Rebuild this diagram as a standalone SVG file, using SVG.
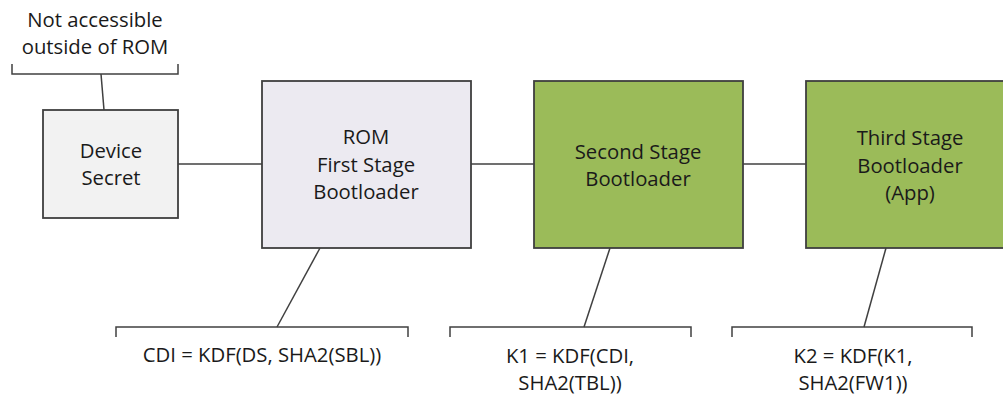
<svg xmlns="http://www.w3.org/2000/svg" width="1003" height="394" viewBox="0 0 1003 394">
  <style>
    .box { stroke: #3f3f3f; stroke-width: 1.8; }
    .grey { fill: #f2f2f2; }
    .rom { fill: #eceaf1; }
    .green { fill: #9bbb59; }
    .wire { fill: none; stroke: #404040; stroke-width: 1.5; }
    text { font-family: "Open Sans", "Liberation Sans", sans-serif; font-size: 20.3px; fill: #1a1a1a; text-anchor: middle; dominant-baseline: central; }
  </style>
  <rect width="1003" height="394" fill="#ffffff"/>

  <!-- connectors and brackets -->
  <g id="connectors">
    <path class="wire" d="M178 164 H262"/>
    <path class="wire" d="M471 164 H534"/>
    <path class="wire" d="M743 164 H806"/>
    <!-- top annotation bracket -->
    <path class="wire" d="M12 64 V74 H178 V64"/>
    <path class="wire" d="M101 74 L104 110"/>
    <!-- bottom annotation brackets -->
    <path class="wire" d="M116 337 V327 H408 V337"/>
    <path class="wire" d="M277 327 L320 248"/>
    <path class="wire" d="M450 337 V327 H691 V337"/>
    <path class="wire" d="M584 327 L610 248"/>
    <path class="wire" d="M732 337 V327 H972 V337"/>
    <path class="wire" d="M864 327 L886 248"/>
  </g>

  <g id="note-rom">
    <text x="95" y="19">Not accessible</text>
    <text x="95" y="46">outside of ROM</text>
  </g>

  <g id="device-secret">
    <rect class="box grey" x="43" y="110" width="135" height="108"/>
    <text x="111" y="150">Device</text>
    <text x="111" y="177">Secret</text>
  </g>

  <g id="rom-fsbl">
    <rect class="box rom" x="262" y="81" width="209" height="167"/>
    <text x="366" y="136">ROM</text>
    <text x="366" y="164">First Stage</text>
    <text x="366" y="191">Bootloader</text>
  </g>

  <g id="second-stage">
    <rect class="box green" x="534" y="81" width="209" height="167"/>
    <text x="638" y="151">Second Stage</text>
    <text x="638" y="178">Bootloader</text>
  </g>

  <g id="third-stage">
    <rect class="box green" x="806" y="81" width="210" height="167"/>
    <text x="910" y="137">Third Stage</text>
    <text x="910" y="165">Bootloader</text>
    <text x="910" y="192">(App)</text>
  </g>

  <g id="cdi-note">
    <text x="262" y="354">CDI = KDF(DS, SHA2(SBL))</text>
  </g>

  <g id="k1-note">
    <text x="570" y="355">K1 = KDF(CDI,</text>
    <text x="570" y="382">SHA2(TBL))</text>
  </g>

  <g id="k2-note">
    <text x="853" y="355">K2 = KDF(K1,</text>
    <text x="853" y="382">SHA2(FW1))</text>
  </g>
</svg>
